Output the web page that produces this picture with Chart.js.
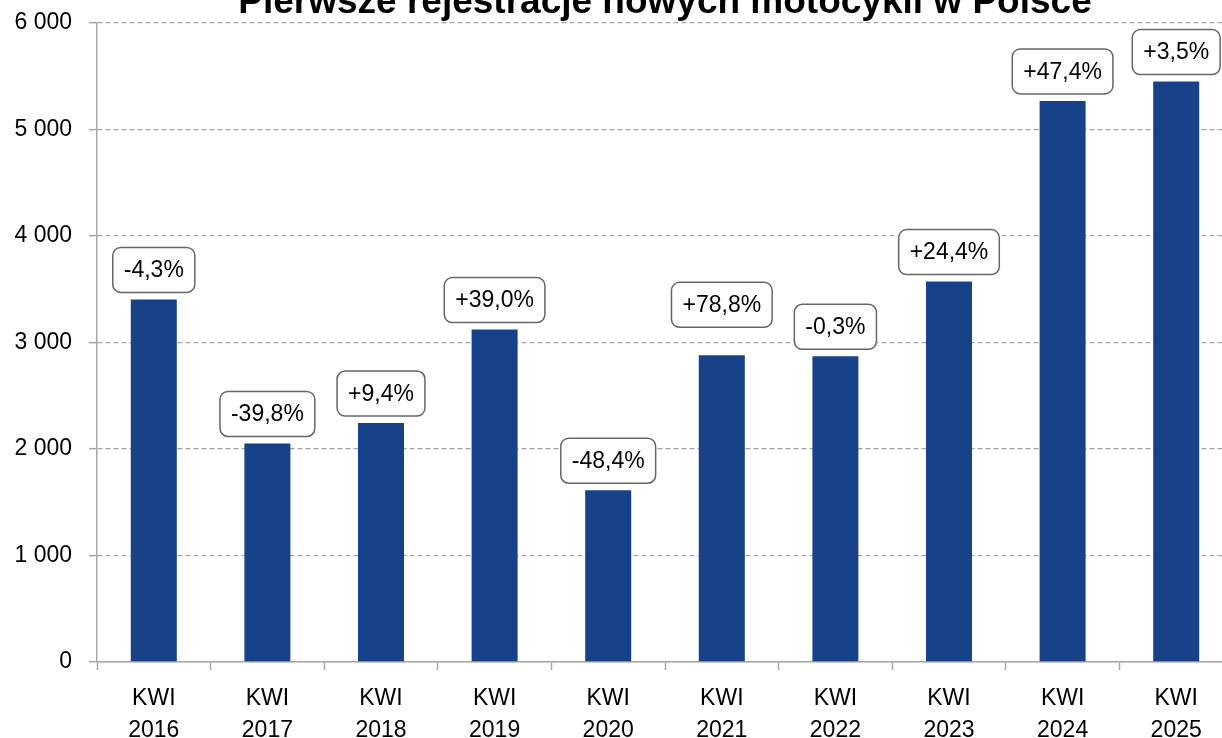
<!DOCTYPE html>
<html>
<head>
<meta charset="utf-8">
<script src="https://cdn.jsdelivr.net/npm/chart.js@4.4.1/dist/chart.umd.min.js"></script>
<style>
  html, body { margin: 0; padding: 0; background: #fff; overflow: hidden; }
  #wrap { width: 1233px; height: 756px; margin-top: -18px; }
</style>
</head>
<body>
<div id="wrap"><canvas id="chart" width="1233" height="756"></canvas></div>
<script>
const titleText = 'Pierwsze rejestracje nowych motocykli w Polsce';
const quarters = [['KWI', '2016'], ['KWI', '2017'], ['KWI', '2018'], ['KWI', '2019'], ['KWI', '2020'],
                  ['KWI', '2021'], ['KWI', '2022'], ['KWI', '2023'], ['KWI', '2024'], ['KWI', '2025']];
const registrations = [3403, 2051, 2243, 3120, 1612, 2878, 2869, 3570, 5266, 5447];
const changeLabels = ['-4,3%', '-39,8%', '+9,4%', '+39,0%', '-48,4%', '+78,8%', '-0,3%', '+24,4%', '+47,4%', '+3,5%'];

const FONT = "'Liberation Sans', Arial, sans-serif";
const GRID = '#a6a6a6';

// boxed percentage labels above the bars
const boxLabels = {
  id: 'boxLabels',
  afterDatasetsDraw(chart) {
    const ctx = chart.ctx;
    const meta = chart.getDatasetMeta(0);
    ctx.save();
    ctx.font = '23px ' + FONT;
    ctx.textAlign = 'center';
    ctx.textBaseline = 'middle';
    meta.data.forEach((bar, i) => {
      const text = changeLabels[i];
      const w = ctx.measureText(text).width + 22;
      const h = 45;
      const lift = i === 5 ? 28 : 7;
      const x = bar.x - w / 2;
      const y = bar.y - lift - h;
      const r = 8;
      ctx.beginPath();
      ctx.moveTo(x + r, y);
      ctx.arcTo(x + w, y, x + w, y + h, r);
      ctx.arcTo(x + w, y + h, x, y + h, r);
      ctx.arcTo(x, y + h, x, y, r);
      ctx.arcTo(x, y, x + w, y, r);
      ctx.closePath();
      ctx.fillStyle = '#fff';
      ctx.fill();
      ctx.lineWidth = 1.5;
      ctx.strokeStyle = '#666';
      ctx.stroke();
      ctx.fillStyle = '#000';
      ctx.fillText(text, bar.x, y + h / 2 + 1);
    });
    ctx.restore();
  }
};

new Chart(document.getElementById('chart'), {
  type: 'bar',
  data: {
    labels: quarters,
    datasets: [{
      data: registrations,
      backgroundColor: '#17428a',
      barPercentage: 0.405,
      categoryPercentage: 1
    }]
  },
  options: {
    responsive: false,
    animation: false,
    devicePixelRatio: 1,
    layout: { padding: 0 },
    plugins: {
      legend: { display: false },
      tooltip: { enabled: false },
      title: {
        display: true,
        text: titleText,
        fullSize: false,
        color: '#000',
        font: { family: FONT, size: 37, weight: 'bold', lineHeight: 1.1 },
        padding: { top: 0, bottom: 0 }
      }
    },
    scales: {
      x: {
        grid: { display: true, drawOnChartArea: false, drawTicks: true, tickLength: 8, tickColor: GRID, tickWidth: 1.5 },
        border: { color: GRID, width: 1.5 },
        ticks: { color: '#000', padding: 13, font: { family: FONT, size: 23, lineHeight: 1.39 }, maxRotation: 0 },
        afterFit(scale) { scale.height = 76; }
      },
      y: {
        min: 0,
        max: 6000,
        ticks: {
          stepSize: 1000,
          color: '#000',
          padding: 17,
          font: { family: FONT, size: 23 },
          callback: v => String(v).replace(/\B(?=(\d{3})+(?!\d))/g, ' ')
        },
        grid: { color: GRID, lineWidth: 1.3, tickLength: 8, tickColor: GRID, tickWidth: 1.5 },
        border: { color: GRID, width: 1.5, dash: [5, 3] },
        afterFit(scale) { scale.width = 97; }
      }
    }
  },
  plugins: [boxLabels]
});
</script>
</body>
</html>
